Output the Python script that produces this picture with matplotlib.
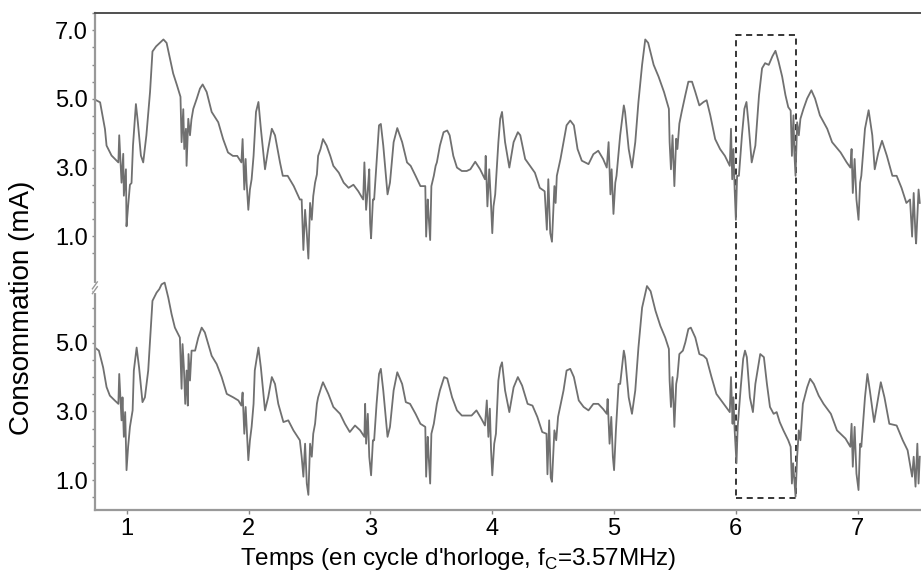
import numpy as np
import matplotlib.pyplot as plt
from matplotlib.patches import Rectangle

plt.rcParams['font.family'] = ['Liberation Sans', 'DejaVu Sans']
plt.rcParams['mathtext.fontset'] = 'custom'
plt.rcParams['mathtext.rm'] = 'Liberation Sans'

# trace du haut (mA) vs temps (cycles)
top_t = [0.737, 0.78, 0.82, 0.833, 0.874, 0.93, 0.937, 0.956, 0.97, 0.975, 0.992, 0.997, 1.01, 1.025, 1.038,
         1.05, 1.074, 1.09, 1.115, 1.134, 1.16, 1.19, 1.21, 1.24, 1.27, 1.30, 1.326, 1.353, 1.38, 1.41, 1.44,
         1.449, 1.463, 1.471, 1.485, 1.49, 1.504, 1.518, 1.53, 1.545, 1.573, 1.60, 1.622, 1.655, 1.696, 1.75,
         1.79, 1.83, 1.87, 1.906, 1.94, 1.95, 1.964, 1.975, 1.983, 1.997, 2.01, 2.024,
         2.04, 2.06, 2.08, 2.10, 2.134, 2.16, 2.19, 2.216, 2.257, 2.28, 2.32, 2.37, 2.42,
         2.435, 2.449, 2.463, 2.477, 2.49, 2.504, 2.518, 2.53, 2.545, 2.56, 2.57, 2.59, 2.61, 2.64, 2.67,
         2.695, 2.74, 2.78, 2.82, 2.86, 2.90, 2.94, 2.95, 2.964, 2.978, 2.99, 2.997, 3.005, 3.02, 3.03,
         3.05, 3.07, 3.085, 3.105, 3.14, 3.16, 3.19, 3.22, 3.26, 3.30, 3.33, 3.37, 3.41, 3.45,
         3.457, 3.47, 3.478, 3.49, 3.50, 3.52, 3.535, 3.545, 3.57, 3.60, 3.63, 3.65, 3.68, 3.71, 3.75, 3.79,
         3.82, 3.86, 3.90, 3.94, 3.946, 3.96, 3.975, 3.988, 4.0, 4.01, 4.024,
         4.05, 4.065, 4.08, 4.105, 4.14, 4.175, 4.21, 4.23, 4.27, 4.31, 4.35, 4.39, 4.43,
         4.448, 4.46, 4.476, 4.49, 4.51, 4.52, 4.53, 4.56, 4.585, 4.61, 4.64, 4.67, 4.70, 4.735, 4.79, 4.83,
         4.87, 4.91, 4.94, 4.955, 4.97, 4.98, 4.995, 5.01, 5.02,
         5.05, 5.08, 5.09, 5.12, 5.147, 5.174, 5.20, 5.23, 5.256, 5.28, 5.325, 5.365, 5.41, 5.45,
         5.456, 5.467, 5.48, 5.495, 5.51, 5.52, 5.536, 5.555, 5.585, 5.61, 5.64, 5.667, 5.70, 5.735, 5.76,
         5.79, 5.83, 5.87, 5.91, 5.95, 5.96, 5.97, 5.98, 5.99, 6.0, 6.01, 6.025,
         6.05, 6.07, 6.087, 6.105, 6.13, 6.16, 6.19, 6.215, 6.24, 6.27, 6.30, 6.325, 6.35, 6.38, 6.407, 6.43,
         6.45, 6.46, 6.473, 6.48, 6.49, 6.503, 6.517, 6.53, 6.555, 6.585, 6.62, 6.65, 6.69, 6.75, 6.79, 6.86,
         6.91, 6.94, 6.95, 6.96, 6.975, 6.99, 7.007, 7.02, 7.03,
         7.06, 7.09, 7.12, 7.14, 7.17, 7.20, 7.24, 7.285, 7.32, 7.36, 7.40, 7.43,
         7.447, 7.46, 7.475, 7.48, 7.50, 7.51]
top_mA = [4.98, 4.9, 4.12, 3.64, 3.35, 3.15, 3.94, 2.56, 3.4, 2.18, 2.95, 1.29, 1.88, 2.5, 2.55,
          3.64, 4.85, 4.32, 3.35, 3.15, 3.94, 5.2, 6.38, 6.53, 6.63, 6.73, 6.63, 6.19, 5.74, 5.41, 5.06,
          3.74, 4.7, 3.54, 4.13, 3.05, 4.42, 3.94, 4.4, 4.71, 5.0, 5.3, 5.42, 5.2, 4.62, 4.32,
          3.83, 3.44, 3.34, 3.34, 3.15, 3.83, 2.36, 3.25, 2.56, 1.77, 2.36, 2.66,
          3.34, 4.62, 4.91, 4.13, 2.95, 3.54, 4.13, 3.94, 3.15, 2.76, 2.76, 2.46, 2.07,
          2.07, 0.6, 1.77, 1.09, 0.35, 1.97, 1.48, 2.17, 2.56, 2.8, 3.34, 3.54, 3.83, 3.64, 3.34,
          3.05, 2.85, 2.56, 2.41, 2.5, 2.31, 2.07, 3.15, 1.77, 2.36, 2.95, 1.38, 0.94, 2.07, 2.07,
          3.15, 4.23, 4.27, 3.64, 2.22, 2.56, 3.74, 4.15, 3.74, 3.15, 3.05, 2.76, 2.46, 2.46,
          0.99, 2.07, 1.56, 0.89, 2.46, 2.76, 3.05, 3.15, 3.64, 4.03, 4.08, 3.94, 3.34, 3.0, 2.9, 2.9,
          2.95, 3.17, 2.95, 2.66, 3.34, 1.87, 2.95, 2.07, 1.09, 1.87, 2.22,
          3.74, 4.42, 4.62, 3.74, 3.0, 3.74, 4.03, 3.94, 3.25, 3.05, 2.85, 2.41, 2.31,
          1.19, 2.66, 1.09, 0.84, 2.46, 1.97, 2.76, 3.25, 3.74, 4.23, 4.37, 4.23, 3.54, 3.2, 3.1, 3.39,
          3.49, 3.25, 3.0, 3.74, 2.22, 2.95, 1.65, 2.56, 2.76,
          3.94, 4.81, 4.62, 3.54, 3.0, 3.74, 4.91, 5.99, 6.73, 6.63, 5.99, 5.65, 5.2, 4.71,
          3.74, 2.95, 3.94, 2.46, 3.84, 3.54, 4.28, 4.62, 5.11, 5.5, 5.5, 5.2, 4.81, 4.91, 4.96,
          4.52, 3.83, 3.54, 3.34, 3.05, 4.13, 2.66, 3.54, 2.36, 1.48, 2.76, 2.76,
          3.94, 4.71, 4.91, 4.23, 3.15, 3.64, 5.11, 5.89, 6.04, 5.99, 6.24, 6.4, 6.09, 5.65, 5.11, 4.76,
          4.66, 3.34, 4.52, 3.44, 2.76, 4.32, 3.94, 4.42, 4.71, 5.01, 5.25, 5.01, 4.52, 4.13, 3.74, 3.44,
          3.15, 3.0, 3.54, 2.26, 3.25, 2.07, 1.48, 2.56, 2.76,
          4.13, 4.67, 3.94, 2.95, 3.44, 3.78, 3.34, 2.76, 2.76, 2.41, 1.97, 2.07,
          0.99, 2.26, 0.99, 0.79, 2.36, 1.97]

# trace du bas
bot_t = [0.737, 0.77, 0.805, 0.833, 0.86, 0.90, 0.93, 0.937, 0.956, 0.964, 0.975, 0.986, 0.997, 1.01, 1.025,
         1.047, 1.057, 1.08, 1.10, 1.128, 1.148, 1.175, 1.21, 1.244, 1.266, 1.285, 1.31, 1.34, 1.367, 1.394,
         1.435, 1.449, 1.457, 1.468, 1.479, 1.49, 1.50, 1.506, 1.518, 1.531, 1.56, 1.586, 1.614, 1.64, 1.668,
         1.696, 1.737, 1.778, 1.82, 1.873, 1.915, 1.94, 1.95, 1.964, 1.975, 1.983, 1.997, 2.01, 2.024,
         2.04, 2.05, 2.08, 2.10, 2.134, 2.16, 2.19, 2.216, 2.243, 2.285, 2.325, 2.367, 2.42,
         2.435, 2.449, 2.463, 2.477, 2.49, 2.504, 2.518, 2.53, 2.545, 2.56, 2.57, 2.60, 2.61, 2.654, 2.695,
         2.75, 2.79, 2.83, 2.873, 2.915, 2.95, 2.956, 2.964, 2.978, 2.99, 3.005, 3.02, 3.03,
         3.05, 3.07, 3.085, 3.105, 3.14, 3.16, 3.19, 3.22, 3.26, 3.29, 3.325, 3.37, 3.41, 3.45,
         3.457, 3.47, 3.478, 3.49, 3.50, 3.52, 3.545, 3.57, 3.605, 3.63, 3.67, 3.71, 3.75, 3.79, 3.83, 3.87,
         3.91, 3.94, 3.955, 3.968, 3.98, 3.99, 4.0, 4.016, 4.03,
         4.05, 4.065, 4.08, 4.105, 4.14, 4.175, 4.21, 4.245, 4.29, 4.33, 4.37, 4.41, 4.445,
         4.453, 4.467, 4.48, 4.49, 4.51, 4.525, 4.54, 4.585, 4.61, 4.64, 4.67, 4.71, 4.75, 4.79, 4.83, 4.87,
         4.91, 4.94, 4.947, 4.963, 4.977, 4.99, 5.0, 5.015, 5.037,
         5.05, 5.08, 5.09, 5.12, 5.147, 5.174, 5.20, 5.23, 5.27, 5.30, 5.34, 5.38, 5.42, 5.45,
         5.456, 5.467, 5.48, 5.495, 5.51, 5.52, 5.536, 5.565, 5.585, 5.61, 5.63, 5.667, 5.70, 5.735, 5.76,
         5.80, 5.84, 5.89, 5.95, 5.96, 5.973, 5.98, 5.99, 6.005, 6.015,
         6.04, 6.06, 6.075, 6.09, 6.115, 6.14, 6.16, 6.20, 6.23, 6.255, 6.28, 6.31, 6.335, 6.36, 6.39, 6.43,
         6.45, 6.46, 6.47, 6.48, 6.49, 6.503, 6.517, 6.53, 6.55, 6.585, 6.61, 6.64, 6.68, 6.72, 6.78, 6.83,
         6.90, 6.94, 6.95, 6.96, 6.975, 6.99, 7.007, 7.02, 7.03,
         7.06, 7.08, 7.10, 7.135, 7.16, 7.19, 7.22, 7.26, 7.32, 7.37, 7.41,
         7.447, 7.46, 7.475, 7.49, 7.50, 7.51]
bot_mA = [4.86, 4.77, 4.28, 3.71, 3.46, 3.32, 3.22, 4.09, 2.74, 3.41, 2.26, 2.98, 1.29, 1.97, 2.55,
          3.03, 4.19, 4.86, 4.28, 3.27, 3.41, 4.19, 6.22, 6.46, 6.56, 6.70, 6.75, 6.31, 5.83, 5.44,
          5.15, 3.66, 4.96, 4.28, 3.22, 4.19, 3.17, 4.67, 3.9, 4.77, 4.77, 5.15, 5.44, 5.30, 4.96,
          4.62, 4.38, 4.0, 3.51, 3.41, 3.32, 3.17, 3.55, 2.35, 3.13, 2.55, 1.58, 2.15, 2.55,
          3.22, 4.19, 4.86, 4.28, 3.03, 3.41, 4.0, 3.8, 3.22, 2.69, 2.74, 2.45, 2.16,
          1.68, 1.1, 2.06, 0.9, 0.57, 2.06, 1.68, 2.35, 2.64, 3.22, 3.41, 3.75, 3.85, 3.51, 3.13,
          2.93, 2.64, 2.40, 2.59, 2.45, 2.26, 3.22, 2.06, 2.93, 1.68, 1.14, 2.16, 2.16,
          3.22, 4.09, 4.24, 3.61, 2.26, 2.55, 3.61, 4.14, 3.8, 3.27, 3.22, 2.93, 2.64, 2.55,
          1.1, 2.26, 1.68, 0.9, 2.35, 2.64, 3.22, 3.61, 4.0, 3.96, 3.41, 3.03, 2.88, 2.88, 2.88, 3.03,
          2.79, 2.59, 3.32, 2.26, 3.08, 1.87, 1.14, 2.06, 2.35,
          3.9, 4.28, 4.43, 3.61, 2.98, 3.7, 4.0, 3.75, 3.22, 3.17, 2.84, 2.40, 2.35,
          1.17, 2.74, 1.07, 0.95, 2.45, 2.16, 2.84, 3.61, 4.19, 4.24, 4.0, 3.32, 3.13, 3.03, 3.22, 3.22,
          3.07, 2.93, 3.36, 2.06, 2.84, 1.68, 1.29, 2.45, 3.8,
          3.8, 4.77, 4.58, 3.41, 2.93, 3.61, 4.86, 6.02, 6.65, 6.5, 5.93, 5.49, 5.15, 4.82,
          3.9, 3.13, 4.0, 2.55, 3.8, 4.0, 4.67, 4.77, 5.01, 5.4, 5.44, 5.15, 4.67, 4.62, 4.53,
          4.0, 3.51, 3.27, 2.98, 4.0, 2.64, 3.41, 2.45, 1.49, 2.55,
          3.7, 4.53, 4.77, 4.58, 3.41, 2.98, 3.8, 4.67, 4.58, 3.8, 3.13, 2.93, 2.98, 2.69, 2.45, 2.16,
          1.97, 0.9, 1.49, 1.0, 0.52, 1.68, 2.45, 2.16, 3.22, 3.7, 3.95, 3.8, 3.46, 3.22, 2.93, 2.45,
          2.21, 1.97, 2.64, 1.39, 2.55, 1.19, 0.71, 2.06, 1.97,
          3.41, 4.09, 3.61, 2.69, 3.22, 3.85, 3.41, 2.64, 2.59, 2.16, 1.87,
          1.1, 1.68, 0.81, 2.06, 0.9, 1.68]

top_ticks = [1.0, 3.0, 5.0, 7.0]
bot_ticks = [1.0, 3.0, 5.0]
offset = 7.1          # decalage vertical de la trace du haut
box_t = (6.0, 6.49)   # fenetre en pointilles
box_mA = (0.49, 6.85 + offset)

fig = plt.figure(figsize=(9.21, 5.76), dpi=100)
ax = fig.add_axes([0.103, 0.1146, 0.897, 0.8628])

line_col = '#707070'
ax.plot(top_t, np.array(top_mA) + offset, color=line_col, lw=1.3)
ax.plot(bot_t, bot_mA, color=line_col, lw=1.3)

ax.add_patch(Rectangle((box_t[0], box_mA[0]), box_t[1] - box_t[0], box_mA[1] - box_mA[0],
                       fill=False, ls=(0, (4, 3)), lw=1.1, ec='black'))

ax.set_xlim(0.737, 7.52)
ax.set_ylim(0.13, 14.54)

yt = bot_ticks + [v + offset for v in top_ticks]
ax.set_yticks(yt)
ax.set_yticklabels(['%.1f' % v for v in bot_ticks + top_ticks])
minor = list(np.arange(0.5, 6.6, 0.5)) + list(np.arange(0.5, 7.6, 0.5) + offset)
ax.set_yticks(minor, minor=True)
ax.set_xticks(range(1, 8))

ax.tick_params(axis='y', which='both', length=2, width=1, color='#888888', labelsize=17, pad=3)
ax.tick_params(axis='x', length=3, width=1, color='#888888', labelsize=17, pad=3)

for s in ['left', 'bottom']:
    ax.spines[s].set_color('#999999')
    ax.spines[s].set_linewidth(1.6)
ax.spines['top'].set_color('#505050')
ax.spines['top'].set_linewidth(1.4)
ax.spines['right'].set_visible(False)

# coupure de l'axe
yb = 6.6
ax.plot([0.737, 0.737], [yb - 0.08, yb + 0.08], color='white', lw=3, clip_on=False, zorder=5)
for d in (-0.07, 0.07):
    ax.plot([0.737 - 0.02, 0.737 + 0.02], [yb + d - 0.1, yb + d + 0.1], color='#999999', lw=1,
            clip_on=False, zorder=6)

ax.set_ylabel('Consommation (mA)', fontsize=20)
ax.yaxis.set_label_coords(-0.072, 0.406)
ax.set_xlabel(r"Temps (en cycle d'horloge, f$_\mathregular{C}$=3.57MHz)", fontsize=17.5)
ax.xaxis.set_label_coords(0.44, -0.072)

fig.savefig('out.png', dpi=100)
